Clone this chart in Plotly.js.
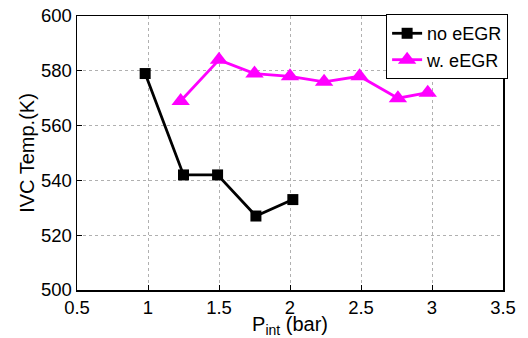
<!DOCTYPE html>
<html><head><meta charset="utf-8">
<script src="https://cdn.plot.ly/plotly-3.0.1.min.js"></script>
<style>html,body{margin:0;padding:0;background:#fff}</style>
</head><body>
<div id="chart" style="width:528px;height:338px"></div>
<script>
const noEgrX = [0.98, 1.25, 1.49, 1.76, 2.02];
const noEgrY = [579, 542, 542, 527, 533];
const wEgrX = [1.23, 1.5, 1.75, 2.0, 2.24, 2.49, 2.76, 2.97];
const wEgrY = [569, 584, 579, 578, 576, 578, 570, 572];
const xTicks = [0.5, 1, 1.5, 2, 2.5, 3, 3.5];
const yTicks = [500, 520, 540, 560, 580, 600];

const font = {family: 'Liberation Sans, Arial, sans-serif', color: '#000'};
const axisCommon = {
  showline: true, mirror: true, linecolor: '#000', linewidth: 1.5,
  ticks: 'inside', ticklen: 5, tickcolor: '#000',
  showgrid: true, gridcolor: '#b0b0b0', griddash: 'dot', gridwidth: 1,
  zeroline: false, tickfont: {...font, size: 18.5}
};
const data = [
  {x: noEgrX, y: noEgrY, name: 'no eEGR', mode: 'lines+markers',
   line: {color: '#000', width: 2.8},
   marker: {symbol: 'square', size: 11, color: '#000'}},
  {x: wEgrX, y: wEgrY, name: 'w. eEGR', mode: 'lines+markers',
   line: {color: '#ff00ff', width: 2.8},
   marker: {symbol: 'triangle-up', size: 16, color: '#ff00ff'}}
];
const layout = {
  width: 528, height: 338,
  margin: {l: 77, r: 25, t: 16, b: 48},
  paper_bgcolor: '#fff', plot_bgcolor: '#fff',
  font: font,
  showlegend: true,
  legend: {x: 1.012, xanchor: 'right', y: 1.007, yanchor: 'top',
    bordercolor: '#000', borderwidth: 1, bgcolor: '#fff',
    font: {...font, size: 18}, tracegroupgap: 0, itemwidth: 30},
  xaxis: {...axisCommon, range: [0.5, 3.5], tickvals: xTicks,
    ticktext: xTicks.map(String),
    title: {text: 'P<sub>int</sub> (bar)', font: {...font, size: 20}, standoff: 4}},
  yaxis: {...axisCommon, range: [500, 600], tickvals: yTicks,
    title: {text: 'IVC Temp.(K)', font: {...font, size: 20}, standoff: 1}}
};
Plotly.newPlot('chart', data, layout, {displayModeBar: false, staticPlot: true});
</script>
</body></html>
